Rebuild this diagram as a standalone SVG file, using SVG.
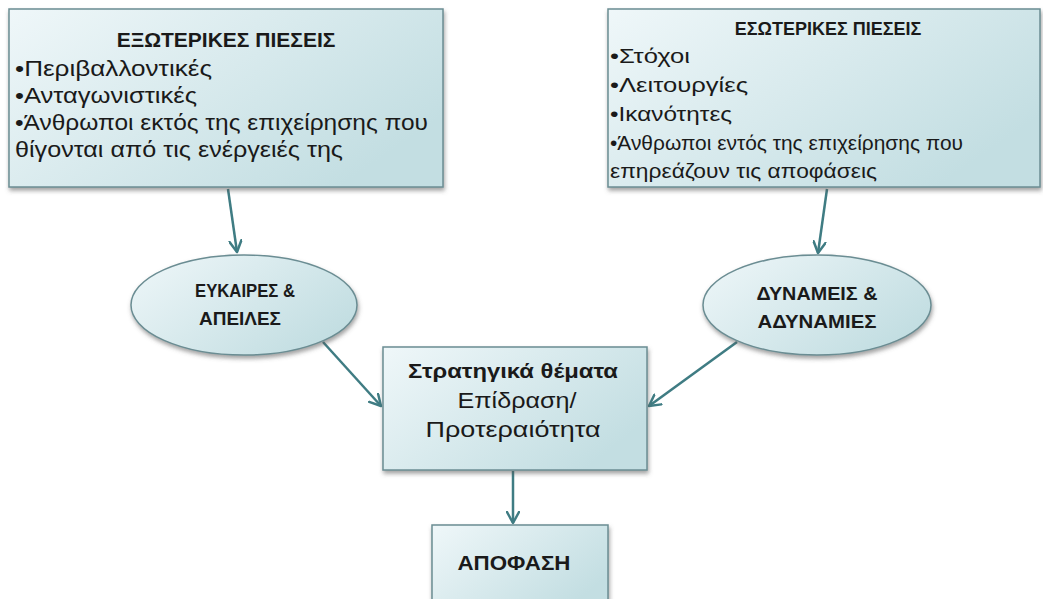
<svg xmlns="http://www.w3.org/2000/svg" width="1043" height="599" viewBox="0 0 1043 599">
<defs>
<linearGradient id="g" x1="0" y1="0" x2="1" y2="0.6">
<stop offset="0" stop-color="#eff7f9"/>
<stop offset="1" stop-color="#c3dee2"/>
</linearGradient>
<filter id="sh" x="-5%" y="-5%" width="115%" height="125%">
<feDropShadow dx="1" dy="3" stdDeviation="2" flood-color="#555" flood-opacity="0.55"/>
</filter>
<marker id="ah" markerWidth="14" markerHeight="14" viewBox="0 0 14 14" refX="12" refY="7" orient="auto" markerUnits="userSpaceOnUse">
<path d="M1,1 L12,7 L1,13" fill="none" stroke="#3f7c83" stroke-width="2.5" stroke-linecap="round" stroke-linejoin="round"/>
</marker>
<style>
.box{fill:url(#g);stroke:#6b8d93;stroke-width:1.5;filter:url(#sh)}
.t{font-family:"Liberation Sans",Arial,sans-serif;fill:#1a1a1a}
.b{font-weight:bold}
.c{text-anchor:middle}
.conn{stroke:#3f7c83;stroke-width:2.5;fill:none;marker-end:url(#ah)}
</style>
</defs>
<rect width="1043" height="599" fill="#ffffff"/>
<g id="connectors">
<line class="conn" x1="228" y1="189" x2="237" y2="252"/>
<line class="conn" x1="827" y1="189" x2="818" y2="253"/>
<line class="conn" x1="323" y1="342" x2="381" y2="406"/>
<line class="conn" x1="737" y1="342" x2="649" y2="406"/>
<line class="conn" x1="513" y1="471" x2="513" y2="523"/>
</g>
<g id="external">
<rect class="box" x="9" y="9" width="434" height="178"/>
<text class="t b c" x="226" y="47" font-size="21">ΕΞΩΤΕΡΙΚΕΣ  ΠΙΕΣΕΙΣ</text>
<text class="t" x="15" y="76" font-size="22" textLength="197" lengthAdjust="spacingAndGlyphs">•Περιβαλλοντικές</text>
<text class="t" x="15" y="103" font-size="22" textLength="182" lengthAdjust="spacingAndGlyphs">•Ανταγωνιστικές</text>
<text class="t" x="15" y="130" font-size="22" textLength="413" lengthAdjust="spacingAndGlyphs">•Άνθρωποι εκτός της επιχείρησης που</text>
<text class="t" x="15" y="157" font-size="22" textLength="328" lengthAdjust="spacingAndGlyphs">θίγονται από τις ενέργειές της</text>
</g>
<g id="internal">
<rect class="box" x="608" y="9" width="432" height="178"/>
<text class="t b c" x="828" y="35" font-size="18">ΕΣΩΤΕΡΙΚΕΣ ΠΙΕΣΕΙΣ</text>
<text class="t" x="610" y="63" font-size="21" textLength="80" lengthAdjust="spacingAndGlyphs">•Στόχοι</text>
<text class="t" x="610" y="92" font-size="21" textLength="138" lengthAdjust="spacingAndGlyphs">•Λειτουργίες</text>
<text class="t" x="610" y="121" font-size="21" textLength="122" lengthAdjust="spacingAndGlyphs">•Ικανότητες</text>
<text class="t" x="610" y="150" font-size="21" textLength="353" lengthAdjust="spacingAndGlyphs">•Άνθρωποι εντός της επιχείρησης που</text>
<text class="t" x="610" y="178" font-size="21" textLength="267" lengthAdjust="spacingAndGlyphs">επηρεάζουν τις αποφάσεις</text>
</g>
<g id="opportunities">
<ellipse class="box" cx="244" cy="305" rx="113" ry="50"/>
<text class="t b c" x="245" y="297" font-size="18" textLength="100" lengthAdjust="spacingAndGlyphs">ΕΥΚΑΙΡΕΣ &amp;</text>
<text class="t b c" x="240" y="325" font-size="18" textLength="82" lengthAdjust="spacingAndGlyphs">ΑΠΕΙΛΕΣ</text>
</g>
<g id="strengths">
<ellipse class="box" cx="817" cy="305" rx="114" ry="50"/>
<text class="t b c" x="817" y="300" font-size="18" textLength="121" lengthAdjust="spacingAndGlyphs">ΔΥΝΑΜΕΙΣ &amp;</text>
<text class="t b c" x="817" y="328" font-size="18" textLength="119" lengthAdjust="spacingAndGlyphs">ΑΔΥΝΑΜΙΕΣ</text>
</g>
<g id="strategic">
<rect class="box" x="383" y="347" width="264" height="123"/>
<text class="t b c" x="513" y="378" font-size="21" textLength="210" lengthAdjust="spacingAndGlyphs">Στρατηγικά θέματα</text>
<text class="t c" x="517" y="408" font-size="22" textLength="119" lengthAdjust="spacingAndGlyphs">Επίδραση/</text>
<text class="t c" x="513" y="437" font-size="22" textLength="175" lengthAdjust="spacingAndGlyphs">Προτεραιότητα</text>
</g>
<g id="decision">
<rect class="box" x="432" y="525" width="176" height="85"/>
<text class="t b c" x="514" y="570" font-size="21" textLength="113" lengthAdjust="spacingAndGlyphs">ΑΠΟΦΑΣΗ</text>
</g>
</svg>
